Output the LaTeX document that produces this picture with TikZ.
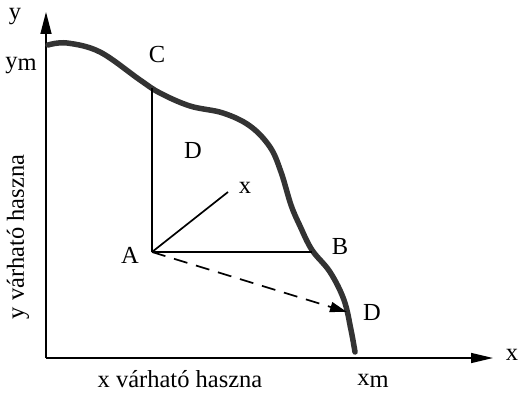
\documentclass[tikz,border=0pt]{standalone}
\usepackage{fontspec}
\setmainfont{Liberation Serif}
\usetikzlibrary{arrows.meta}
\begin{document}
\begin{tikzpicture}[x=1pt,y=-1pt,
  lbl/.style={font=\fontsize{24.5}{28}\selectfont, inner sep=0pt},
  axis/.style={line width=1.5pt},
  seg/.style={line width=1.7pt},
  curvestyle/.style={line width=5.5pt, black!80, line cap=round}]
\useasboundingbox (0,0) rectangle (521,396);
% axes
\coordinate (O) at (46,358);
\coordinate (Ytip) at (46,12);
\coordinate (Xtip) at (493,358);
\draw[axis, -{Triangle[length=22pt,width=11pt]}] (O) -- (Ytip);
\draw[axis, -{Triangle[length=22pt,width=10pt]}] (O) -- (Xtip);
% curve
\draw[curvestyle] plot[smooth, tension=0.6] coordinates {(48,45) (67,43) (100,52) (140,80) (160,93) (190,106) (223,113) (250,126) (270,147) (281,172) (291,205) (300,226) (312,250) (330,272) (344,300) (351,330) (355,352)};
% points
\coordinate (A) at (152,252);
\coordinate (B) at (312,252);
\coordinate (C) at (152,88);
\coordinate (D) at (347,312);
\coordinate (X) at (228,192);
\draw[seg] (C) -- (A);
\draw[seg] (A) -- (B);
\draw[seg] (A) -- (X);
\draw[seg, dashed, dash pattern=on 14pt off 9pt, -{Triangle[length=17pt,width=10pt]}] (A) -- (D);
% labels
\node[lbl] (ly) at (15,17) {y};
\node[lbl] (lym) at (21,66) {y\raisebox{-2pt}{m}};
\node[lbl] (lC) at (157,55) {C};
\node[lbl] (lD1) at (193,151) {D};
\node[lbl] (lx) at (245,188) {x};
\node[lbl] (lA) at (130,255) {A};
\node[lbl] (lB) at (340,247) {B};
\node[lbl] (lD2) at (372,312) {D};
\node[lbl] (lxax) at (512,355) {x};
\node[lbl] (lxm) at (373,381) {x\raisebox{-2pt}{m}};
\node[lbl] (lxh) at (180,379) {x várható haszna};
\node[lbl, rotate=90] (lyh) at (18,237) {y várható haszna};
\end{tikzpicture}
\end{document}
